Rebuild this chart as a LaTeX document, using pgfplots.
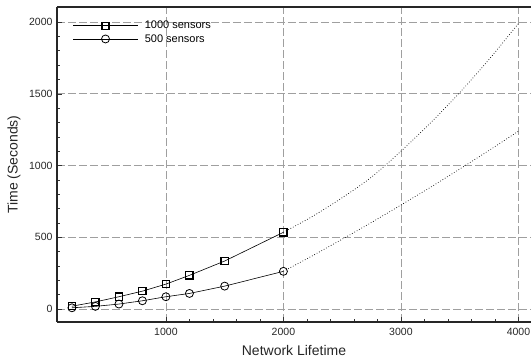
\documentclass[border=0pt]{standalone}
\usepackage{pgfplots}
\pgfplotsset{compat=1.18}
\usepackage{fontspec}
\setmainfont{Liberation Sans}
\begin{document}
\begin{tikzpicture}
\begin{axis}[
  scale only axis, width=474pt, height=315pt,
  xmin=73, xmax=4107, ymin=-90, ymax=2105,
  axis x line*=box, axis y line*=left,
  xtick={1000,2000,3000,4000}, ytick={0,500,1000,1500,2000},
  minor x tick num=4, minor y tick num=4,
  xtick pos=bottom, ytick pos=left,
  tick align=inside,
  major tick length=5pt, minor tick length=3pt,
  axis line style={line width=1.3pt, black!85},
  tick style={black!80, line width=0.6pt},
  grid=major,
  major grid style={gray!75, line width=0.8pt, dash pattern=on 8pt off 3pt},
  /pgf/number format/assume math mode=true,
  /pgf/number format/set thousands separator={},
  ticklabel style={font=\fontsize{10.5}{12}\selectfont, black!85},
  xticklabel style={yshift=-3pt},
  yticklabel style={xshift=-1pt},
  xlabel={Network Lifetime}, ylabel={Time (Seconds)},
  every axis x label/.style={at={([yshift=-34pt]rel axis cs:0.5,0)}, anchor=base,
    font=\fontsize{14}{16}\selectfont, black!85},
  every axis y label/.style={at={([xshift=-43pt]rel axis cs:0,0.5)}, anchor=center, rotate=90,
    font=\fontsize{14}{16}\selectfont, black!85},
  legend cell align=left,
  legend style={draw=none, fill=none, at={(rel axis cs:0,1)}, anchor=north west,
    xshift=13pt, yshift=-10pt, font=\fontsize{11}{12}\selectfont, row sep=0pt, column sep=4pt},
  legend image code/.code={\draw[mark repeat=2,mark phase=2,#1] plot coordinates {(0pt,0pt) (32pt,0pt) (65pt,0pt)};},
]
\addplot[black, line width=0.6pt, mark=square, mark size=3.6pt, mark options={line width=1.3pt, fill=white, solid}]
 coordinates {(200,20) (400,50) (600,86) (800,125) (1000,174) (1200,235) (1500,335) (2000,535)};
\addlegendentry{1000 sensors}
\addplot[black, line width=0.6pt, mark=o, mark size=4pt, mark options={line width=0.8pt, fill=white, solid}]
 coordinates {(200,9) (400,19) (600,35) (800,58) (1000,86) (1200,109) (1500,160) (2000,263)};
\addlegendentry{500 sensors}
\addplot[black, line width=0.7pt, dotted, smooth, forget plot]
 coordinates {(2000,535) (2250,647) (2500,776) (2750,920) (3000,1100) (3250,1296) (3500,1508) (3750,1740) (4000,1990)};
\addplot[black, line width=0.7pt, dotted, smooth, forget plot]
 coordinates {(2000,263) (2250,373) (2500,487) (2750,604) (3000,725) (3250,848) (3500,976) (3750,1106) (4000,1240)};
\end{axis}
\pgfresetboundingbox
\path[use as bounding box] (-57pt,-40pt) rectangle (474pt,322pt);
\end{tikzpicture}
\end{document}
